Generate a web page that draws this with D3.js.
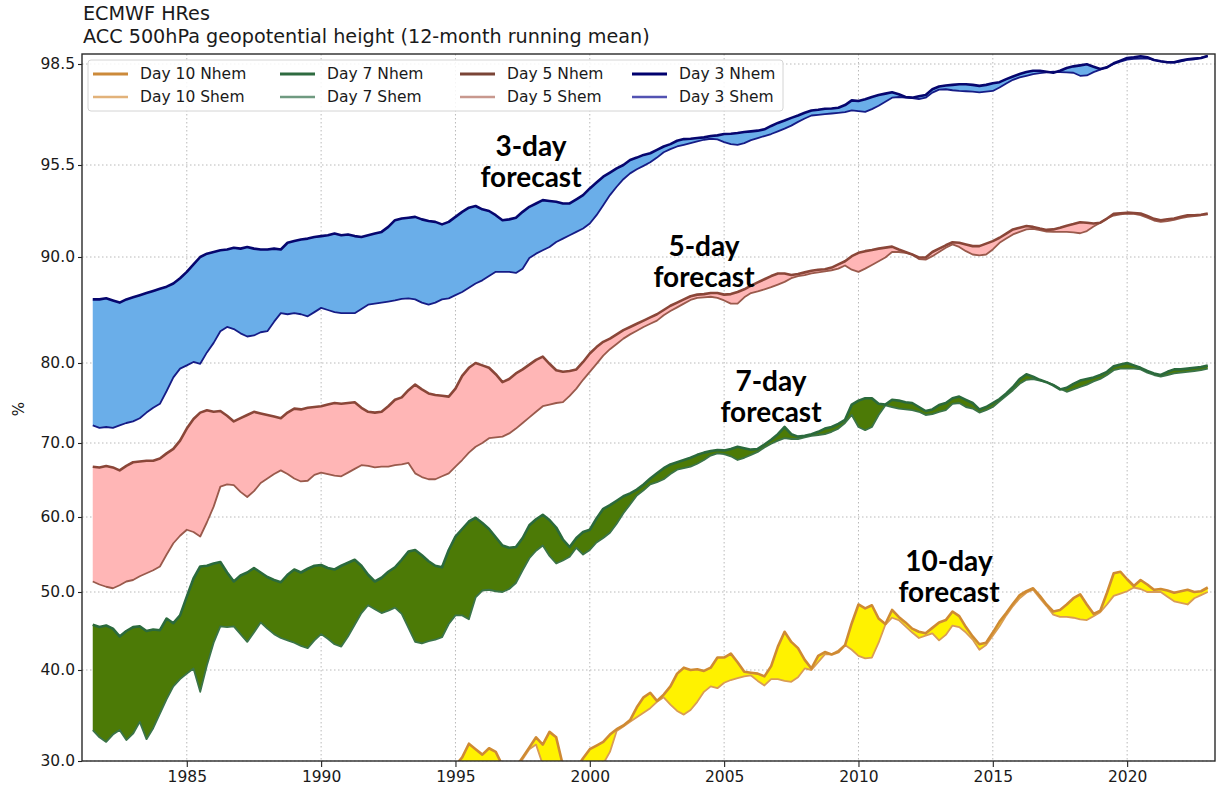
<!DOCTYPE html>
<html><head><meta charset="utf-8">
<script src="https://cdn.jsdelivr.net/npm/d3@7"></script>
<style>
html,body{margin:0;padding:0;background:#fff;}
svg{display:block;font-family:"DejaVu Sans",sans-serif;}
</style></head><body>
<svg id="chart" width="1217" height="789"></svg>
<script>
// ---------- categories ----------
const years = d3.range(1981.5, 2023.01, 0.25);   // quarterly, 12-month running mean
const years10 = d3.range(1995, 2023.01, 0.25);   // Day 10 enters the visible range in 1995
const xTicks = [1985, 1990, 1995, 2000, 2005, 2010, 2015, 2020];
const yTicks = [30, 40, 50, 60, 70, 80, 90, 95.5, 98.5];

// ---------- series values (%) ----------
const day3Nhem = [
 86.0, 86.0,
 86.1, 85.9, 85.7, 86.0,  86.2, 86.4, 86.6, 86.8,  87.0, 87.2, 87.5, 88.0,  88.6, 89.3, 90.0, 90.2,
 90.3, 90.4, 90.45, 90.55, 90.5, 90.6, 90.5, 90.45, 90.45, 90.5, 90.45, 90.85, 90.95, 91.05, 91.1, 91.2,
 91.25, 91.3, 91.4, 91.3, 91.35, 91.25, 91.2, 91.3, 91.4, 91.5, 91.8, 92.2, 92.3, 92.35, 92.4, 92.25,
 92.15, 92.1, 91.95, 92.1, 92.4, 92.7, 92.95, 93.05, 92.85, 92.75, 92.5, 92.2, 92.25, 92.35, 92.7, 93.0,
 93.2, 93.4, 93.35, 93.3, 93.2, 93.2, 93.45, 93.7, 94.1, 94.45, 94.8, 95.05, 95.3, 95.5, 95.65, 95.72,
 95.8, 95.85, 95.95, 96.05, 96.12, 96.22, 96.27, 96.28, 96.3, 96.32, 96.36, 96.38, 96.42, 96.43, 96.45, 96.48,
 96.5, 96.52, 96.56, 96.66, 96.75, 96.82, 96.9, 96.97, 97.05, 97.12, 97.14, 97.17, 97.18, 97.2, 97.28, 97.42,
 97.4, 97.45, 97.52, 97.58, 97.62, 97.66, 97.6, 97.52, 97.5, 97.54, 97.58, 97.75, 97.83, 97.86, 97.88, 97.9,
 97.9, 97.88, 97.85, 97.88, 97.93, 97.96, 98.05, 98.13, 98.2, 98.26, 98.3, 98.3, 98.27, 98.24, 98.3, 98.38,
 98.43, 98.46, 98.49, 98.42, 98.35, 98.4, 98.52, 98.6, 98.68, 98.7, 98.73, 98.7, 98.62, 98.58, 98.55, 98.55,
 98.6, 98.64, 98.66, 98.68,
 98.74];
const day3Shem = [
 72.2, 71.9,
 72.0, 71.9, 72.2, 72.5,  72.7, 73.1, 73.8, 74.4,  74.9, 76.5, 78.2, 79.3,  79.7, 80.1, 79.9, 81.0,
 81.9, 83.0, 83.4, 83.2, 82.8, 82.5, 82.6, 82.9, 83.0, 83.9, 84.7, 84.6, 84.7, 84.6, 84.4, 84.8,
 85.2, 85.0, 84.8, 84.7, 84.7, 84.7, 85.1, 85.5, 85.6, 85.7, 85.8, 85.9, 86.05, 86.1, 86.0, 85.7,
 85.5, 85.7, 86.0, 86.1, 86.4, 86.7, 87.1, 87.5, 87.8, 88.2, 88.6, 88.6, 88.6, 88.5, 88.9, 89.9,
 90.2, 90.4, 90.6, 90.9, 91.1, 91.3, 91.5, 91.7, 92.0, 92.5, 93.1, 93.7, 94.2, 94.65, 95.0, 95.25,
 95.45, 95.58, 95.72, 95.88, 95.97, 96.05, 96.1, 96.15, 96.2, 96.25, 96.28, 96.26, 96.18, 96.12, 96.1, 96.15,
 96.24, 96.3, 96.36, 96.42, 96.5, 96.58, 96.67, 96.78, 96.88, 96.97, 96.99, 97.01, 97.03, 97.05, 97.07, 97.12,
 97.1, 97.08, 97.16, 97.26, 97.38, 97.5, 97.52, 97.5, 97.49, 97.46, 97.5, 97.65, 97.74, 97.75, 97.72, 97.7,
 97.69, 97.68, 97.66, 97.68, 97.7, 97.8, 97.92, 98.03, 98.1, 98.15, 98.2, 98.23, 98.25, 98.27, 98.26, 98.25,
 98.24, 98.15, 98.16, 98.26, 98.33, 98.41, 98.5, 98.57, 98.63, 98.65, 98.66, 98.67, 98.62, 98.58, 98.55, 98.54,
 98.58, 98.62, 98.64, 98.68,
 98.74];
const day5Nhem = [
 66.8, 66.7,
 66.9, 66.7, 66.3, 66.9,  67.4, 67.5, 67.6, 67.6,  67.9, 68.6, 69.2, 70.3,  71.8, 73.0, 73.8, 74.1,
 73.9, 74.0, 73.4, 72.7, 73.1, 73.5, 73.9, 73.7, 73.5, 73.3, 73.1, 73.8, 74.3, 74.2, 74.4, 74.5,
 74.6, 74.8, 75.0, 74.9, 75.0, 75.1, 74.4, 73.9, 73.8, 73.9, 74.6, 75.4, 75.7, 76.6, 77.3, 76.7,
 76.2, 76.0, 75.9, 75.8, 76.8, 78.4, 79.4, 80.0, 79.7, 79.4, 78.6, 77.6, 78.0, 78.7, 79.2, 79.8,
 80.3, 80.6, 79.9, 79.1, 78.9, 79.0, 79.2, 80.1, 80.9, 81.5, 82.0, 82.3, 82.7, 83.1, 83.4, 83.7,
 84.0, 84.3, 84.6, 85.0, 85.4, 85.7, 86.0, 86.3, 86.45, 86.5, 86.6, 86.6, 86.45, 86.5, 86.7, 86.95,
 87.3, 87.6, 87.9, 88.2, 88.45, 88.45, 88.3, 88.4, 88.55, 88.7, 88.8, 88.85, 89.0, 89.3, 89.6, 90.05,
 90.25, 90.35, 90.42, 90.5, 90.56, 90.62, 90.45, 90.3, 90.15, 89.95, 89.95, 90.3, 90.5, 90.7, 90.88, 90.85,
 90.75, 90.65, 90.65, 90.8, 90.95, 91.15, 91.4, 91.65, 91.75, 91.85, 91.8, 91.7, 91.62, 91.65, 91.75, 91.87,
 91.97, 92.08, 92.05, 92.0, 92.05, 92.3, 92.58, 92.62, 92.65, 92.63, 92.6, 92.45, 92.28, 92.2, 92.26, 92.3,
 92.4, 92.5, 92.5, 92.52,
 92.6];
const day5Shem = [
 51.4, 51.0,
 50.7, 50.5, 50.9, 51.4,  51.6, 52.1, 52.5, 52.9,  53.4, 55.0, 56.5, 57.5,  58.3, 58.0, 57.4, 59.3,
 61.4, 64.1, 64.4, 64.3, 63.4, 62.7, 63.5, 64.6, 65.2, 65.8, 66.3, 65.8, 65.2, 64.8, 64.9, 65.7,
 66.0, 65.8, 65.6, 65.5, 66.0, 66.5, 67.0, 66.9, 66.7, 66.8, 66.8, 67.0, 67.1, 67.3, 65.9, 65.4,
 65.1, 65.1, 65.5, 65.9, 66.8, 67.7, 68.7, 69.5, 70.0, 70.6, 70.7, 70.8, 71.2, 71.8, 72.5, 73.2,
 73.9, 74.6, 74.8, 75.0, 75.1, 75.9, 76.8, 77.9, 78.9, 79.9, 80.7, 81.3, 81.8, 82.3, 82.7, 83.05,
 83.4, 83.7, 84.0, 84.5, 84.9, 85.25, 85.6, 85.95, 86.15, 86.2, 86.25, 86.15, 85.9, 85.6, 85.6, 86.2,
 86.6, 86.75, 86.95, 87.15, 87.4, 87.65, 88.0, 88.2, 88.3, 88.45, 88.55, 88.65, 88.75, 88.9, 89.2, 88.8,
 88.6, 88.9, 89.25, 89.6, 89.95, 90.3, 90.3, 90.25, 90.15, 89.8, 89.75, 90.05, 90.3, 90.55, 90.75, 90.6,
 90.35, 90.15, 90.1, 90.15, 90.45, 90.85, 91.1, 91.35, 91.5, 91.65, 91.68, 91.6, 91.52, 91.5, 91.5, 91.5,
 91.47, 91.42, 91.55, 91.82, 92.05, 92.3, 92.48, 92.55, 92.6, 92.58, 92.5, 92.35, 92.18, 92.1, 92.15, 92.22,
 92.32, 92.4, 92.45, 92.5,
 92.55];
const day7Nhem = [
 45.8, 45.5,
 45.7, 45.3, 44.3, 45.0,  45.5, 45.6, 45.0, 45.2,  45.1, 46.6, 46.0, 47.0,  49.4, 51.8, 53.4, 53.5,
 53.8, 54.0, 52.6, 51.4, 52.2, 52.6, 53.2, 52.6, 52.0, 51.6, 51.3, 52.3, 53.0, 52.6, 53.1, 53.5,
 53.6, 53.2, 53.0, 53.5, 53.9, 54.3, 53.5, 52.3, 51.4, 51.9, 52.7, 53.3, 54.3, 55.4, 55.6, 54.9,
 54.1, 53.5, 53.3, 55.6, 57.4, 58.4, 59.4, 59.9, 59.2, 58.4, 57.3, 56.2, 55.9, 56.0, 57.2, 58.9,
 59.7, 60.3, 59.6, 58.6, 57.0, 56.0, 57.2, 58.0, 58.3, 59.8, 61.1, 61.6, 62.2, 62.8, 63.2, 63.7,
 64.4, 65.2, 65.9, 66.6, 67.1, 67.4, 67.7, 68.0, 68.4, 68.7, 68.9, 69.05, 69.0, 69.2, 69.5, 69.3,
 69.1, 69.2, 69.8, 70.4, 71.1, 72.0, 71.1, 70.8, 70.9, 71.1, 71.4, 71.8, 72.0, 72.4, 72.9, 74.8,
 75.3, 75.6, 75.6, 74.9, 74.8, 75.4, 75.3, 75.1, 75.0, 74.5, 74.0, 74.2, 74.75, 75.0, 75.6, 75.8,
 75.4, 75.0, 74.2, 74.5, 75.0, 75.5, 76.2, 77.0, 78.0, 78.6, 78.3, 77.9, 77.6, 77.2, 76.7, 76.9,
 77.4, 77.8, 78.0, 78.2, 78.5, 78.9, 79.6, 79.8, 80.0, 79.7, 79.4, 79.0, 78.7, 78.5, 78.9, 79.2,
 79.2, 79.3, 79.4, 79.5,
 79.7];
const day7Shem = [
 33.4, 32.6,
 32.1, 32.9, 33.4, 32.3,  33.0, 34.3, 32.4, 33.6,  35.2, 36.8, 38.2, 39.0,  39.6, 40.2, 37.6, 40.6,
 43.5, 45.6, 45.5, 45.6, 44.6, 43.6, 44.8, 46.1, 45.3, 44.6, 44.1, 43.8, 43.5, 43.1, 42.8, 43.8,
 44.6, 44.0, 43.3, 43.0, 44.3, 45.8, 47.3, 48.3, 47.8, 47.3, 47.6, 48.0, 47.2, 45.4, 43.6, 43.4,
 43.7, 43.9, 44.2, 45.9, 47.0, 47.0, 46.5, 49.3, 50.2, 50.3, 50.1, 50.0, 50.4, 51.2, 52.9, 54.5,
 55.5, 56.2, 54.8, 53.8, 54.2, 54.7, 55.9, 55.0, 55.6, 56.6, 57.2, 57.9, 59.1, 60.5, 61.7, 62.9,
 63.6, 64.4, 64.7, 65.1, 65.8, 66.4, 66.6, 66.8, 67.2, 67.7, 68.3, 68.6, 68.5, 68.2, 67.7, 68.0,
 68.4, 68.8, 69.4, 69.9, 70.3, 70.6, 70.5, 70.5, 70.7, 70.9, 71.0, 71.1, 71.4, 71.8, 72.5, 73.5,
 72.0, 71.6, 72.0, 73.5, 74.7, 74.5, 74.3, 74.2, 74.1, 73.9, 73.5, 73.6, 73.9, 74.1, 74.9, 75.0,
 74.5, 74.3, 73.8, 74.1, 74.5, 75.2, 75.9, 76.6, 77.4, 77.9, 78.0, 77.8, 77.6, 77.3, 76.8, 76.4,
 76.7, 77.0, 77.3, 77.7, 78.0, 78.5, 79.1, 79.3, 79.3, 79.3, 79.2, 78.8, 78.5, 78.3, 78.5, 78.7,
 78.8, 78.9, 79.0, 79.1,
 79.3];
const day10Nhem = [
 29.5, 30.4, 31.9, 31.3, 30.7, 31.4, 31.0, 29.5, 29.0, 29.3, 30.4, 31.5, 32.6, 31.8, 33.2, 32.6,
 29.5, 29.0, 29.2, 30.3, 31.3, 31.7, 32.1, 32.9, 33.5, 33.9, 34.5, 35.9, 37.0, 37.5, 36.6, 37.3,
 38.2, 39.6, 40.3, 40.0, 40.1, 39.9, 40.3, 41.6, 41.6, 42.1, 41.0, 39.8, 39.7, 39.6, 39.3, 40.5,
 43.0, 44.9, 43.6, 42.8, 41.3, 40.2, 41.8, 42.3, 42.0, 42.3, 43.2, 46.0, 48.4, 47.9, 48.3, 46.6,
 45.9, 47.7, 46.8, 46.1, 45.3, 44.9, 44.7, 45.4, 46.1, 46.4, 47.5, 46.9, 45.5, 44.3, 43.3, 43.5,
 44.8, 46.2, 47.3, 48.5, 49.6, 50.1, 50.5, 49.5, 48.4, 47.5, 47.7, 48.4, 49.2, 49.7, 48.4, 47.2,
 47.6, 49.9, 52.5, 52.7, 51.7, 50.8, 51.6, 51.0, 50.3, 50.4, 50.2, 49.9, 50.1, 50.3, 50.0, 50.1,
 50.6];
const day10Shem = [
 28.5, 29.0, 29.2, 29.3, 29.4, 29.2, 29.0, 28.8, 28.5, 28.9, 30.2, 31.3, 31.8, 29.6, 29.5, 29.3,
 28.8, 28.5, 28.6, 29.0, 29.3, 29.5, 29.7, 31.0, 33.3, 33.8, 34.3, 34.8, 35.3, 35.8, 36.5, 37.0,
 36.2, 35.5, 35.1, 35.6, 36.5, 37.6, 38.2, 38.0, 38.6, 38.9, 39.1, 39.3, 39.4, 38.8, 38.3, 39.0,
 39.0, 38.8, 38.7, 39.2, 40.2, 40.0, 41.0, 42.0, 42.0, 42.5, 43.2, 42.6, 41.8, 41.5, 41.6, 43.5,
 45.8, 46.7, 46.4, 45.6, 44.8, 44.1, 44.4, 44.7, 43.8, 44.5, 45.7, 45.5, 44.8, 43.9, 42.6, 43.2,
 44.4, 45.6, 47.0, 48.2, 49.2, 49.9, 50.3, 49.2, 48.2, 47.1, 46.8, 46.8, 46.7, 46.5, 46.4, 46.9,
 47.4, 48.4, 49.5, 49.8, 50.1, 50.6, 50.4, 50.0, 50.0, 50.0, 49.4, 48.8, 48.6, 48.4, 49.2, 49.6,
 50.0];

// ---------- labels ----------
const titleLines = ["ECMWF HRes", "ACC 500hPa geopotential height (12-month running mean)"];
const seriesNames = ["Day 10", "Day 7", "Day 5", "Day 3"];
const annotations = [["3-day", "forecast"], ["5-day", "forecast"], ["7-day", "forecast"], ["10-day", "forecast"]];

// ---------- layout / style (not data) ----------
const plot = {left: 82, top: 54, right: 1215, bottom: 761};
const svg = d3.select("#chart");

const x = d3.scaleLinear().domain([1981.1, 2023.27]).range([plot.left, plot.right]);
// non-uniform ACC axis: piecewise-linear between the labelled ticks
const y = d3.scaleLinear().domain(yTicks).range([761, 670, 592, 517, 443, 363, 257, 165, 64]);

const styles = {
  "Day 10": {fill: "#fff200", n: "#cf8a33", s: "#d99c55", legN: "#cc8a3a", legS: "#e2b27a"},
  "Day 7":  {fill: "#4c7a06", n: "#2b6a3d", s: "#3b7448", legN: "#2e6b40", legS: "#6f9a80"},
  "Day 5":  {fill: "#ffb6b6", n: "#8a4638", s: "#9a5a4c", legN: "#7a4436", legS: "#c8988e"},
  "Day 3":  {fill: "#6aaee9", n: "#06066e", s: "#161c86", legN: "#00006e", legS: "#5252b2"}
};
const seriesTable = [
  {name: "Day 10", t: years10, n: day10Nhem, s: day10Shem},
  {name: "Day 7",  t: years,   n: day7Nhem,  s: day7Shem},
  {name: "Day 5",  t: years,   n: day5Nhem,  s: day5Shem},
  {name: "Day 3",  t: years,   n: day3Nhem,  s: day3Shem}
];

// clip
svg.append("defs").append("clipPath").attr("id", "clip")
  .append("rect").attr("x", plot.left).attr("y", plot.top)
  .attr("width", plot.right - plot.left).attr("height", plot.bottom - plot.top);

// grid
const grid = svg.append("g");
grid.selectAll("line.gx").data(xTicks).join("line")
  .attr("x1", d => x(d)).attr("x2", d => x(d)).attr("y1", plot.top).attr("y2", plot.bottom)
  .attr("stroke", "#b9b9b9").attr("stroke-width", 1).attr("stroke-dasharray", "1.5,2.5");
grid.selectAll("line.gy").data(yTicks).join("line")
  .attr("x1", plot.left).attr("x2", plot.right).attr("y1", d => y(d)).attr("y2", d => y(d))
  .attr("stroke", "#b9b9b9").attr("stroke-width", 1).attr("stroke-dasharray", "1.5,2.5");

// data
const ok = v => v != null && !isNaN(v);
const gData = svg.append("g").attr("clip-path", "url(#clip)");
seriesTable.forEach(sr => {
  const pts = sr.t.map((t, i) => ({t, n: sr.n[i], s: sr.s[i]}));
  const st = styles[sr.name];
  const area = d3.area().defined(d => ok(d.n) && ok(d.s))
    .x(d => x(d.t)).y0(d => y(d.s)).y1(d => y(d.n));
  gData.append("path").datum(pts).attr("d", area).attr("fill", st.fill).attr("stroke", "none");
  const lineS = d3.line().defined(d => ok(d.s)).x(d => x(d.t)).y(d => y(d.s));
  const lineN = d3.line().defined(d => ok(d.n)).x(d => x(d.t)).y(d => y(d.n));
  gData.append("path").datum(pts).attr("d", lineS).attr("fill", "none")
    .attr("stroke", st.s).attr("stroke-width", 1.8).attr("stroke-linejoin", "round");
  gData.append("path").datum(pts).attr("d", lineN).attr("fill", "none")
    .attr("stroke", st.n).attr("stroke-width", 2.6).attr("stroke-linejoin", "round");
});

// axes
const yAxis = d3.axisLeft(y).tickValues(yTicks).tickFormat(d3.format(".1f")).tickSize(4).tickPadding(3);
const gy = svg.append("g").attr("transform", `translate(${plot.left},0)`).call(yAxis);
const xAxis = d3.axisBottom(x).tickValues(xTicks).tickFormat(d3.format("d")).tickSize(6).tickPadding(4);
const gx = svg.append("g").attr("transform", `translate(0,${plot.bottom})`).call(xAxis);
[gx, gy].forEach(g => {
  g.select(".domain").remove();
  g.selectAll(".tick line").attr("stroke", "#222").attr("stroke-width", 1.1);
  g.selectAll(".tick text").attr("fill", "#1a1a1a").attr("font-family", "DejaVu Sans").attr("font-size", 15.5);
});

// frame
svg.append("rect").attr("x", plot.left).attr("y", plot.top)
  .attr("width", plot.right - plot.left).attr("height", plot.bottom - plot.top)
  .attr("fill", "none").attr("stroke", "#2a2a2a").attr("stroke-width", 1.4);

// y label
svg.append("text").attr("transform", "translate(19,409) rotate(-90)")
  .attr("text-anchor", "middle").attr("dominant-baseline", "central")
  .attr("font-size", 15).attr("fill", "#1a1a1a").text("%");

// title
svg.selectAll("text.title").data(titleLines).join("text").attr("class", "title")
  .attr("x", 83).attr("y", (d, i) => 20 + i * 23)
  .attr("font-size", 19.2).attr("fill", "#1a1a1a").text(d => d);

// legend
const leg = svg.append("g");
leg.append("rect").attr("x", 88).attr("y", 60).attr("width", 695).attr("height", 51)
  .attr("rx", 3).attr("fill", "#fff").attr("fill-opacity", 0.85).attr("stroke", "#d4d4d4");
const colX = [93, 280, 460, 632];
const rowY = [74, 97];
seriesNames.forEach((nm, c) => {
  ["Nhem", "Shem"].forEach((hem, r) => {
    const st = styles[nm];
    leg.append("line").attr("x1", colX[c]).attr("x2", colX[c] + 35)
      .attr("y1", rowY[r]).attr("y2", rowY[r])
      .attr("stroke", r === 0 ? st.legN : st.legS).attr("stroke-width", r === 0 ? 3.2 : 2.4);
    leg.append("text").attr("x", colX[c] + 47).attr("y", rowY[r])
      .attr("dominant-baseline", "central").attr("font-size", 15.5).attr("fill", "#1a1a1a")
      .text(`${nm} ${hem}`);
  });
});

// annotations
const annPos = [[531, 145], [704, 245], [771, 380], [949, 560]];
annotations.forEach((lines, i) => {
  lines.forEach((t, j) => {
    svg.append("text").attr("x", annPos[i][0]).attr("y", annPos[i][1] + j * 31)
      .attr("text-anchor", "middle").attr("dominant-baseline", "central")
      .attr("font-family", "Lato, 'DejaVu Sans', sans-serif").attr("font-weight", "bold")
      .attr("font-size", 28).attr("fill", "#000").text(t);
  });
});
</script>
</body></html>
